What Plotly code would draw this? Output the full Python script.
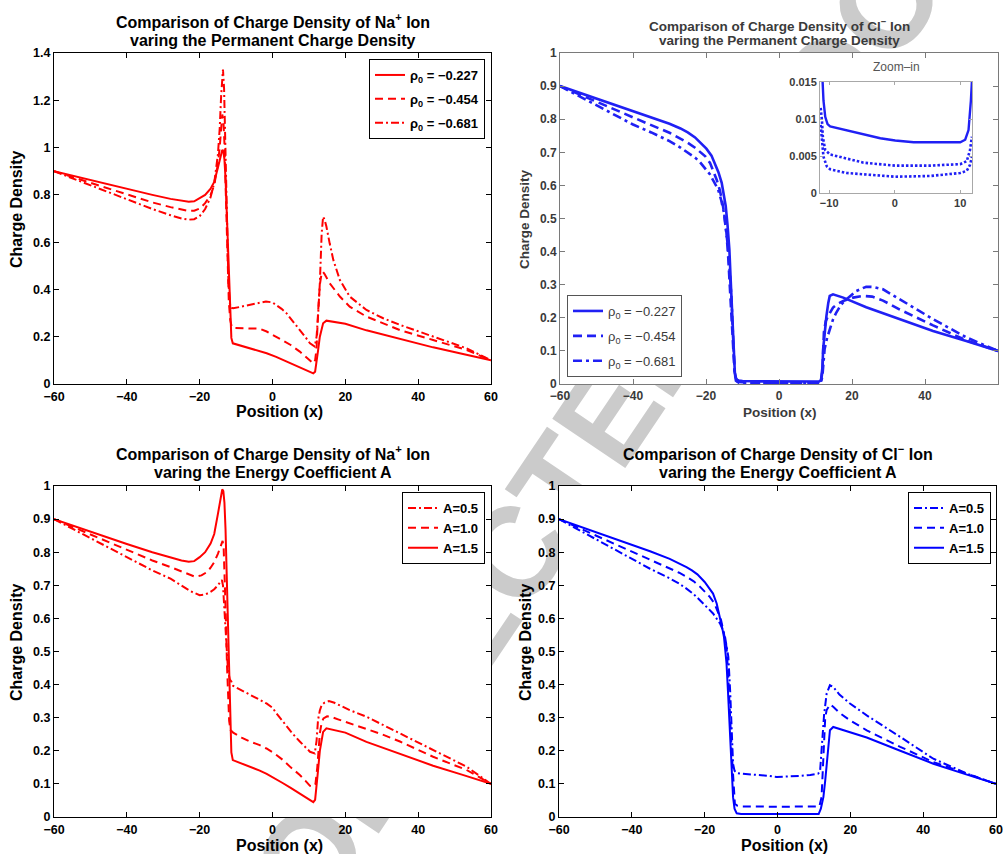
import plotly.graph_objects as go

W, H = 1003, 854
FONT = "Liberation Sans"

# ---------------- data ----------------
# Na+ ion, varying permanent charge density (top-left); solid also = A=1.5 (bottom-left)
na_rho1_x = [-60, -50, -40, -33, -28, -25, -23, -21.5, -20, -18.5, -17, -16, -15, -14.5, -14.1, -13.8, -13.5, -13.2, -12.9, -12.6,
             -12.2, -11.9, -11.6, -11.3, -10.9, -9, -6.2, -3.5, -1.6, 1, 2.9, 5, 7.5, 9.5, 10.7, 11.2, 11.7, 12.1, 12.5, 13,
             13.5, 13.9, 14.8, 16, 20, 25.8, 35, 44.1, 52, 60]
na_rho1_y = [0.9, 0.862, 0.825, 0.8, 0.783, 0.775, 0.771, 0.773, 0.785, 0.8, 0.826, 0.855, 0.915, 0.95, 0.978, 0.99, 0.985, 0.95, 0.87, 0.74,
             0.55, 0.4, 0.27, 0.195, 0.172, 0.164, 0.151, 0.14, 0.13, 0.115, 0.102, 0.088, 0.07, 0.055, 0.047, 0.045, 0.052, 0.087, 0.14, 0.2,
             0.24, 0.257, 0.268, 0.265, 0.255, 0.227, 0.19, 0.155, 0.128, 0.1]

na_rho2_x = [-60, -50, -40, -33, -28, -25, -23, -21.5, -20, -18.5, -17, -16, -15, -14.5, -14.1, -13.8, -13.5, -13.2, -12.9, -12.6,
             -12.3, -12, -11.6, -11.2, -10.8, -7, -3.5, -1.6, 1, 2.9, 5, 7.5, 9, 10.3, 11.2, 11.7, 12.1, 12.5, 13, 13.4,
             13.8, 14.3, 15.7, 18.5, 21.2, 25.8, 30.4, 35, 44.1, 53.3, 60]
na_rho2_y = [0.9, 0.85, 0.8, 0.768, 0.748, 0.737, 0.732, 0.733, 0.742, 0.765, 0.8, 0.84, 0.93, 1.0, 1.09, 1.14, 1.12, 1.02, 0.85, 0.65,
             0.47, 0.35, 0.27, 0.242, 0.237, 0.236, 0.234, 0.222, 0.2, 0.186, 0.165, 0.137, 0.115, 0.096, 0.087, 0.1, 0.15, 0.3, 0.42, 0.46,
             0.475, 0.465, 0.426, 0.37, 0.327, 0.285, 0.257, 0.228, 0.186, 0.144, 0.1]

na_rho3_x = [-60, -50, -40, -33, -28, -25, -23, -21.5, -20, -18.5, -17, -16, -15, -14.5, -14.1, -13.8, -13.6, -13.3, -13, -12.7,
             -12.4, -12.1, -11.7, -11.2, -10.8, -8.5, -6.2, -3.5, -1.8, 0, 1.1, 2.5, 3.8, 5.5, 7.5, 9, 10.3, 11.6, 12.1, 12.5,
             13, 13.5, 13.9, 14.3, 14.8, 15.7, 16.7, 18.5, 21.2, 25.8, 30.4, 35, 44.1, 53.3, 60]
na_rho3_y = [0.9, 0.84, 0.78, 0.74, 0.714, 0.7, 0.695, 0.697, 0.71, 0.74, 0.79, 0.85, 0.97, 1.08, 1.22, 1.31, 1.33, 1.25, 1.05, 0.8,
             0.58, 0.43, 0.34, 0.322, 0.32, 0.327, 0.334, 0.344, 0.349, 0.345, 0.334, 0.318, 0.3, 0.265, 0.228, 0.199, 0.172, 0.158, 0.2, 0.285,
             0.426, 0.637, 0.708, 0.695, 0.666, 0.595, 0.525, 0.44, 0.37, 0.313, 0.278, 0.25, 0.2, 0.151, 0.1]

# Na+ ion, varying energy coefficient A (bottom-left)
na_a15_x = na_rho1_x
na_a15_y = na_rho1_y

na_a10_x = [-60, -50, -40, -33, -28, -25, -23, -21.3, -19.5, -18, -17, -16, -15, -14.4, -14, -13.7, -13.4, -13.1, -12.8, -12.5,
            -12.2, -11.9, -11.5, -10.8, -8.5, -6.2, -3.5, -1.65, 0.5, 2.9, 5, 7.5, 9, 10.3, 11.2, 11.8, 12.3, 12.7, 13, 13.5,
            14, 15, 16, 18, 21.2, 25.8, 30, 35, 44.1, 53.3, 60]
na_a10_y = [0.9, 0.853, 0.806, 0.775, 0.755, 0.742, 0.733, 0.726, 0.73, 0.74, 0.753, 0.77, 0.795, 0.815, 0.828, 0.834, 0.81, 0.72, 0.6, 0.46,
            0.35, 0.29, 0.262, 0.255, 0.24, 0.228, 0.217, 0.207, 0.192, 0.172, 0.15, 0.127, 0.11, 0.094, 0.092, 0.1, 0.15, 0.22, 0.253, 0.285,
            0.298, 0.304, 0.303, 0.295, 0.283, 0.268, 0.25, 0.228, 0.182, 0.142, 0.1]

na_a05_x = [-60, -50, -40, -33, -28, -25, -22.5, -20, -18.5, -17, -16, -15, -14.4, -13.9, -13.6, -13.3, -13, -12.6, -12.2, -11.7,
            -11.3, -10.8, -8.5, -6.2, -3.5, -1.65, 0, 1.1, 2.5, 3.8, 5.5, 7.5, 9, 10.3, 11.6, 12.1, 12.5, 13, 13.5, 14.2,
            15.5, 17, 21.2, 25.8, 30, 35, 44.1, 53.3, 60]
na_a05_y = [0.9, 0.842, 0.786, 0.745, 0.72, 0.698, 0.682, 0.67, 0.672, 0.68, 0.688, 0.7, 0.71, 0.716, 0.7, 0.65, 0.58, 0.5, 0.44, 0.415,
            0.409, 0.396, 0.382, 0.369, 0.354, 0.343, 0.33, 0.313, 0.293, 0.273, 0.252, 0.228, 0.212, 0.197, 0.192, 0.23, 0.293, 0.322, 0.338, 0.345,
            0.35, 0.345, 0.323, 0.303, 0.28, 0.253, 0.202, 0.152, 0.1]

# Cl- ion, varying permanent charge density (top-right)
cl_rho1_x = [-60, -50, -40, -35, -30, -27, -25, -23, -21.7, -19.9, -18.5, -17.6, -16.6, -15.7, -15, -14.6, -14.1, -13.6, -13.3, -13,
             -12.7, -12.4, -12.1, -11.8, -11.4, -11, -10, -5, 0, 5, 10, 11, 11.5, 11.9, 12.1, 12.5, 13, 13.5, 13.9, 14.8,
             17.6, 23.9, 33.1, 42.2, 51.3, 60]
cl_rho1_y = [0.9, 0.862, 0.824, 0.806, 0.786, 0.772, 0.76, 0.745, 0.732, 0.711, 0.69, 0.668, 0.64, 0.608, 0.57, 0.538, 0.48, 0.407, 0.33, 0.256,
             0.17, 0.075, 0.035, 0.018, 0.012, 0.0105, 0.009, 0.008, 0.0073, 0.007, 0.007, 0.0074, 0.012, 0.05, 0.106, 0.16, 0.206, 0.245, 0.266, 0.271,
             0.261, 0.232, 0.195, 0.16, 0.13, 0.1]

cl_rho2_x = [-60, -50, -40, -35, -30, -27, -25, -23, -21.7, -20.2, -18.9, -17.1, -16.2, -15.5, -14.9, -14.4, -13.9, -13.5, -13.1, -12.6,
             -12.2, -11.8, -11.4, -11, -10, -5, 0, 5, 10, 11, 11.5, 11.9, 12.3, 12.8, 13.5, 14.8, 16, 17.6, 20.3, 23,
             25.5, 28.5, 33.1, 42.2, 51.3, 60]
cl_rho2_y = [0.9, 0.852, 0.804, 0.782, 0.759, 0.742, 0.729, 0.714, 0.703, 0.688, 0.668, 0.618, 0.585, 0.548, 0.505, 0.457, 0.38, 0.307, 0.22, 0.106,
             0.04, 0.012, 0.007, 0.006, 0.0052, 0.0042, 0.0037, 0.0037, 0.0039, 0.0043, 0.0058, 0.04, 0.156, 0.19, 0.206, 0.231, 0.242, 0.251, 0.261, 0.266,
             0.264, 0.252, 0.225, 0.177, 0.132, 0.1]

cl_rho3_x = [-60, -50, -40, -35, -30, -27, -25, -23, -21.7, -20.2, -18.9, -16.7, -15.9, -15.1, -14.5, -13.9, -13.5, -13, -12.7, -12.4,
             -12.1, -11.8, -11.4, -11, -10, -5, 0, 5, 10, 11, 11.5, 11.9, 12.5, 13.2, 13.9, 14.8, 15.7, 17, 18.5, 21.2,
             23.9, 26, 28.5, 33.1, 42.2, 51.3, 60]
cl_rho3_y = [0.9, 0.842, 0.784, 0.76, 0.734, 0.714, 0.699, 0.684, 0.671, 0.652, 0.633, 0.588, 0.558, 0.518, 0.47, 0.407, 0.34, 0.256, 0.17, 0.075,
             0.03, 0.01, 0.006, 0.004, 0.0034, 0.0026, 0.0022, 0.0023, 0.0027, 0.003, 0.0038, 0.025, 0.106, 0.14, 0.166, 0.195, 0.216, 0.24, 0.256, 0.281,
             0.294, 0.293, 0.286, 0.256, 0.196, 0.141, 0.1]

# Zoom-in inset of the Cl- channel region
inset_rho1_x = [-11.0, -10.87, -10.6, -10.25, -9.85, -7.3, -4.76, -2.2, 0.08, 2.9, 6, 10, 10.76, 11.27, 11.63, 11.78]
inset_rho1_y = [0.015, 0.0125, 0.0103, 0.0093, 0.009, 0.0085, 0.008, 0.0074, 0.0071, 0.00685, 0.00685, 0.00685, 0.0072, 0.0085, 0.0125, 0.015]
inset_rho2_x = [-11.3, -11.1, -10.97, -10.76, -10.6, -9.85, -7.3, -4.76, 0.08, 5.4, 10, 11, 11.5, 11.78]
inset_rho2_y = [0.0115, 0.0098, 0.0076, 0.0063, 0.0058, 0.0052, 0.0046, 0.0041, 0.0037, 0.0037, 0.0039, 0.0043, 0.0058, 0.0076]
inset_rho3_x = [-11.3, -11.1, -10.87, -10.36, -9.85, -7.3, -4.76, 0.08, 5.4, 10, 11, 11.5, 11.78]
inset_rho3_y = [0.0092, 0.0076, 0.0049, 0.0036, 0.0032, 0.0027, 0.0025, 0.0022, 0.0023, 0.0027, 0.003, 0.0038, 0.0049]

# Cl- ion, varying energy coefficient A (bottom-right)
cl_a15_x = [-60, -50, -39.7, -35, -29.6, -27, -25, -23.5, -22, -20, -18.7, -17.7, -16.7, -15.8, -15.2, -14.7, -14.3, -14, -13.6, -13.1,
            -12.7, -12.2, -11.8, -11.2, -10, 0, 10, 11.3, 11.9, 12.6, 13.1, 13.5, 14, 14.4, 15.3, 18, 24.5, 33.7, 42.8, 52,
            60]
cl_a15_y = [0.9, 0.862, 0.822, 0.803, 0.78, 0.767, 0.755, 0.745, 0.733, 0.71, 0.692, 0.675, 0.645, 0.605, 0.572, 0.544, 0.505, 0.464, 0.38, 0.262,
            0.16, 0.06, 0.025, 0.011, 0.009, 0.008, 0.008, 0.009, 0.025, 0.06, 0.11, 0.16, 0.22, 0.262, 0.272, 0.262, 0.24, 0.2, 0.161, 0.128,
            0.1]

cl_a10_x = [-60, -50, -39.7, -35, -29.6, -27, -25, -23, -21.3, -20, -18.6, -17.3, -16.3, -15.5, -14.9, -14.4, -14, -13.5, -13.1, -12.6,
            -12.1, -11.7, -11, -10.3, 0, 11.5, 12.1, 12.5, 12.8, 13.1, 13.5, 14, 14.4, 15.3, 17, 19.9, 24.5, 33.7, 42.8, 52,
            60]
cl_a10_y = [0.9, 0.851, 0.801, 0.778, 0.751, 0.738, 0.726, 0.712, 0.696, 0.682, 0.665, 0.645, 0.62, 0.595, 0.565, 0.538, 0.514, 0.42, 0.312, 0.2,
            0.11, 0.04, 0.034, 0.032, 0.031, 0.032, 0.06, 0.17, 0.262, 0.3, 0.323, 0.335, 0.34, 0.333, 0.315, 0.292, 0.262, 0.212, 0.166, 0.131,
            0.1]

cl_a05_x = [-60, -50, -39.7, -35, -29.6, -27, -25, -23, -21.3, -19.5, -17.7, -15.8, -15, -14.4, -14, -13.5, -13, -12.6, -12.2, -11.8,
            -11.2, -10, -6.7, -3, -0.2, 3, 6.2, 9, 11.2, 11.7, 12.1, 12.5, 12.8, 13.5, 14.4, 15.3, 17, 19.9, 24.5, 33.7,
            42.8, 52, 60]
cl_a05_y = [0.9, 0.84, 0.776, 0.75, 0.721, 0.705, 0.69, 0.673, 0.655, 0.636, 0.615, 0.585, 0.565, 0.544, 0.52, 0.484, 0.38, 0.262, 0.16, 0.14,
            0.133, 0.131, 0.129, 0.125, 0.121, 0.122, 0.124, 0.127, 0.131, 0.14, 0.21, 0.27, 0.31, 0.373, 0.398, 0.393, 0.37, 0.343, 0.307, 0.242,
            0.176, 0.131, 0.1]

rho_labels = ["ρ<sub>0</sub> = −0.227", "ρ<sub>0</sub> = −0.454", "ρ<sub>0</sub> = −0.681"]
a_labels = ["A=0.5", "A=1.0", "A=1.5"]
x_ticks = [-60, -40, -20, 0, 20, 40, 60]
inset_xticks = [-10, 0, 10]
inset_yticks = [0, 0.005, 0.01, 0.015]
inset_yticktext = ["0", "0.005", "0.01", "0.015"]
watermark_text = "UNCORRECTED PROOF"

# ---------------- helpers ----------------
def px(x):
    return x / W

def py(y):
    return 1 - y / H

RED = "#ff0000"
BLUE = "#0000ff"
BLUE_S = "#2020f4"
DASH = "8px,5px"
DASHDOT = "8px,3px,2px,3px"

fig = go.Figure()

# watermark (behind all panels)
WM_CX, WM_CY = px(542), py(512)
fig.add_trace(go.Bar(
    x=[WM_CX], y=[0.2], base=[WM_CY - 0.1], width=[0.2], xaxis="x", yaxis="y",
    text=[watermark_text], textposition="inside", insidetextanchor="middle",
    textangle=-56, constraintext="none", cliponaxis=False,
    textfont=dict(family=FONT, size=128, color="#cbcbcb", weight="bold"),
    marker=dict(color="rgba(0,0,0,0)", line=dict(width=0)),
    hoverinfo="skip", showlegend=False))

def add_line(xs, ys, xa, ya, color, dash, name, legend, width=2, group=None, show=True):
    assert len(xs) == len(ys), name
    fig.add_trace(go.Scatter(
        x=xs, y=ys, mode="lines", xaxis=xa, yaxis=ya, name=name,
        line=dict(color=color, width=width, dash=dash),
        legend=legend, legendgroup=group, showlegend=show, hoverinfo="skip"))

# top-left
add_line(na_rho1_x, na_rho1_y, "x2", "y2", RED, "solid", rho_labels[0], "legend", group="a1")
add_line(na_rho2_x, na_rho2_y, "x2", "y2", RED, DASH, rho_labels[1], "legend", group="a2")
add_line(na_rho3_x, na_rho3_y, "x2", "y2", RED, DASHDOT, rho_labels[2], "legend", group="a3")
# top-right
add_line(cl_rho1_x, cl_rho1_y, "x3", "y3", BLUE_S, "solid", rho_labels[0], "legend2", width=2.6, group="b1")
add_line(cl_rho2_x, cl_rho2_y, "x3", "y3", BLUE_S, "9px,5px", rho_labels[1], "legend2", width=2.6, group="b2")
add_line(cl_rho3_x, cl_rho3_y, "x3", "y3", BLUE_S, "9px,4px,3px,4px", rho_labels[2], "legend2", width=2.6, group="b3")
# inset
add_line(inset_rho1_x, inset_rho1_y, "x6", "y6", BLUE_S, "solid", "i1", "legend2", width=2.4, show=False)
add_line(inset_rho2_x, inset_rho2_y, "x6", "y6", BLUE_S, "2.5px,2px", "i2", "legend2", width=2.6, show=False)
add_line(inset_rho3_x, inset_rho3_y, "x6", "y6", BLUE_S, "2.5px,2px", "i3", "legend2", width=2.6, show=False)
# bottom-left
add_line(na_a05_x, na_a05_y, "x4", "y4", RED, DASHDOT, a_labels[0], "legend3")
add_line(na_a10_x, na_a10_y, "x4", "y4", RED, DASH, a_labels[1], "legend3")
add_line(na_a15_x, na_a15_y, "x4", "y4", RED, "solid", a_labels[2], "legend3")
# bottom-right
add_line(cl_a05_x, cl_a05_y, "x5", "y5", BLUE, DASHDOT, a_labels[0], "legend4")
add_line(cl_a10_x, cl_a10_y, "x5", "y5", BLUE, DASH, a_labels[1], "legend4")
add_line(cl_a15_x, cl_a15_y, "x5", "y5", BLUE, "solid", a_labels[2], "legend4")

def mat_axis(domain, rng, anchor, dtick=None, tickvals=None, ticktext=None, size=12.5,
             color="black", lcolor="black", weight="bold", ticklen=5, standoff=None):
    d = dict(domain=domain, range=rng, anchor=anchor, showline=True, linecolor=lcolor, linewidth=1,
             mirror="ticks", ticks="inside", ticklen=ticklen, tickcolor=lcolor, tickwidth=1,
             showgrid=False, zeroline=False, fixedrange=True, automargin=False,
             tickfont=dict(family=FONT, size=size, color=color, weight=weight))
    if dtick is not None:
        d["dtick"] = dtick
        d["tick0"] = 0
    if tickvals is not None:
        d["tickvals"] = tickvals
    if ticktext is not None:
        d["ticktext"] = ticktext
    if standoff is not None:
        d["ticklabelstandoff"] = standoff
    return d

TL_X = [px(54), px(491)]
TR_X = [px(560), px(998)]
BL_X = [px(54), px(491)]
BR_X = [px(559), px(996)]
TOP_Y = [py(384), py(53)]
BOT_Y = [py(817), py(486)]

GREY_T = "#3a3a3a"
GREY_L = "#7a7a7a"

fig.update_layout(
    template="none",
    width=W, height=H, autosize=False,
    margin=dict(l=0, r=0, t=0, b=0, pad=0, autoexpand=False),
    paper_bgcolor="white", plot_bgcolor="white",
    showlegend=True,
    xaxis=dict(domain=[0, 1], range=[0, 1], visible=False, fixedrange=True, automargin=False),
    yaxis=dict(domain=[0, 1], range=[0, 1], visible=False, fixedrange=True, automargin=False),
    xaxis2=mat_axis(TL_X, [-60, 60], "y2", tickvals=x_ticks, standoff=1),
    yaxis2=mat_axis(TOP_Y, [0, 1.4], "x2", dtick=0.2),
    xaxis3=mat_axis(TR_X, [-60, 60], "y3", tickvals=x_ticks, size=12, color=GREY_T, lcolor=GREY_L, standoff=1),
    yaxis3=mat_axis(TOP_Y, [0, 1], "x3", dtick=0.1, size=12, color=GREY_T, lcolor=GREY_L),
    xaxis4=mat_axis(BL_X, [-60, 60], "y4", tickvals=x_ticks, standoff=1),
    yaxis4=mat_axis(BOT_Y, [0, 1], "x4", dtick=0.1),
    xaxis5=mat_axis(BR_X, [-60, 60], "y5", tickvals=x_ticks, standoff=1),
    yaxis5=mat_axis(BOT_Y, [0, 1], "x5", dtick=0.1),
    xaxis6=mat_axis([px(820), px(972)], [-11.4, 11.8], "y6", tickvals=inset_xticks, size=11,
                    color=GREY_T, lcolor="#a8a8a8", ticklen=3),
    yaxis6=mat_axis([py(193), py(82)], [0, 0.015], "x6", tickvals=inset_yticks, ticktext=inset_yticktext,
                    size=11, color=GREY_T, lcolor="#a8a8a8", ticklen=3),
    legend=dict(x=px(485), y=py(59), xanchor="right", yanchor="top", bgcolor="white",
                bordercolor="black", borderwidth=1, tracegroupgap=4,
                font=dict(family=FONT, size=13, color="black", weight="bold")),
    legend2=dict(x=px(567), y=py(377), xanchor="left", yanchor="bottom", bgcolor="white",
                 bordercolor="#555555", borderwidth=1, tracegroupgap=5,
                 font=dict(family=FONT, size=13, color=GREY_T)),
    legend3=dict(x=px(485), y=py(492), xanchor="right", yanchor="top", bgcolor="white",
                 bordercolor="black", borderwidth=1,
                 font=dict(family=FONT, size=13, color="black", weight="bold")),
    legend4=dict(x=px(991), y=py(492), xanchor="right", yanchor="top", bgcolor="white",
                 bordercolor="black", borderwidth=1,
                 font=dict(family=FONT, size=13, color="black", weight="bold")),
)

def text(t, x, y, size, color="black", angle=0, weight="bold"):
    fig.add_annotation(text=t, x=px(x), y=py(y), xref="paper", yref="paper",
                       xanchor="center", yanchor="middle", showarrow=False, textangle=angle,
                       font=dict(family=FONT, size=size, color=color, weight=weight))

# titles
text("Comparison of Charge Density of Na<sup>+</sup> Ion", 273, 21, 16)
text("varing the Permanent Charge Density", 273, 41, 16)
text("Comparison of Charge Density of Cl<sup>−</sup> Ion", 779, 25, 13.5, GREY_T)
text("varing the Permanent Charge Density", 779, 41, 13.5, GREY_T)
text("Comparison of Charge Density of Na<sup>+</sup> Ion", 273, 453, 16)
text("varing the Energy Coefficient A", 273, 473, 16)
text("Comparison of Charge Density of Cl<sup>−</sup> Ion", 778, 453, 16)
text("varing the Energy Coefficient A", 778, 473, 16)
text("Zoom–in", 896, 67, 12, "#555555", weight="normal")

# axis labels
text("Charge Density", 16, 210, 16, angle=-90)
text("Charge Density", 16, 643, 16, angle=-90)
text("Charge Density", 525, 643, 16, angle=-90)
text("Charge Density", 525, 219, 13.5, GREY_T, angle=-90)
text("Position (x)", 279, 411, 16)
text("Position (x)", 279, 845, 16)
text("Position (x)", 784, 845, 16)
text("Position (x)", 780, 412, 13.5, GREY_T)

fig.write_html("out.html", config={"displayModeBar": False},
               post_script="document.body.style.margin='0';document.body.style.overflow='hidden';")
